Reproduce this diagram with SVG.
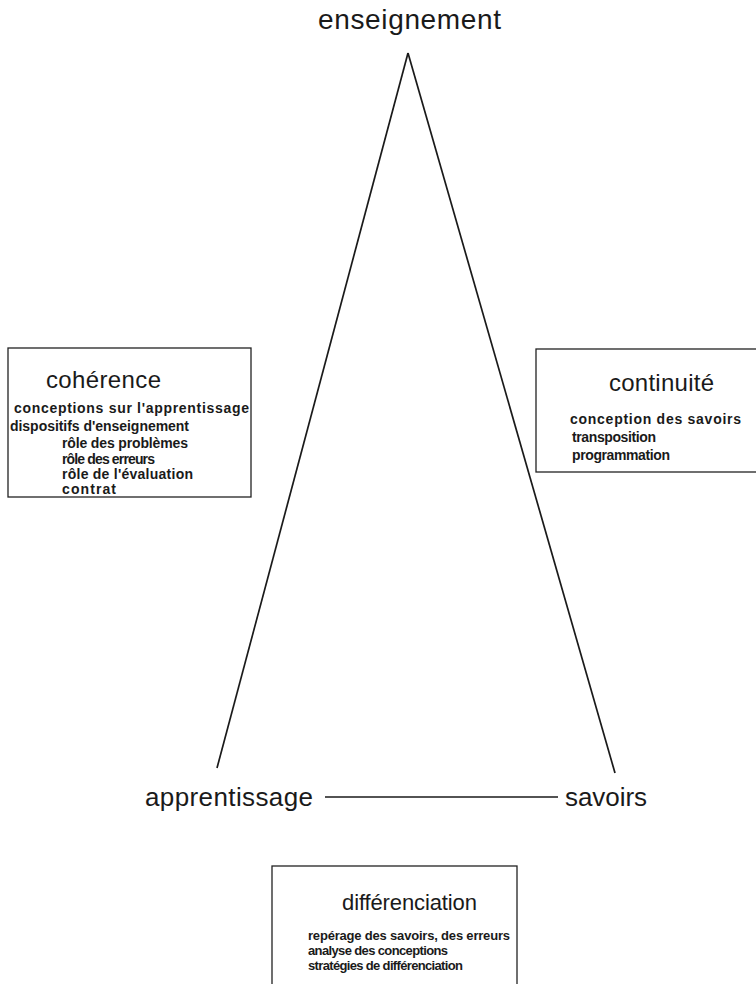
<svg xmlns="http://www.w3.org/2000/svg" width="756" height="984" viewBox="0 0 756 984">
<style>
text{font-family:"Liberation Sans",Arial,sans-serif;fill:#1a1a1a}
.v{font-size:26px}
.t{font-size:24px}
.s{font-size:14px;font-weight:bold}
.s2{font-size:13px;font-weight:bold}
.box{fill:#fff;stroke:#222;stroke-width:1.3}
.ln{stroke:#1a1a1a;stroke-width:1.7;fill:none}
</style>
<rect width="756" height="984" fill="#fff"/>
<g id="connectors">
<line class="ln" x1="408" y1="53" x2="217" y2="768"/>
<line class="ln" x1="408" y1="53" x2="615" y2="773"/>
<line class="ln" x1="325" y1="797" x2="558" y2="797"/>
</g>
<g id="enseignement"><text class="v" x="318" y="29" textLength="183" style="font-size:28px">enseignement</text></g>
<g id="apprentissage"><text class="v" x="145" y="806" textLength="168">apprentissage</text></g>
<g id="savoirs"><text class="v" x="565" y="806" textLength="82">savoirs</text></g>
<g id="coherence">
<rect class="box" x="8" y="348" width="243" height="149"/>
<text class="t" x="46" y="388" textLength="115">cohérence</text>
<text class="s" x="14" y="413" textLength="235">conceptions sur l'apprentissage</text>
<text class="s" x="10" y="431" textLength="179">dispositifs d'enseignement</text>
<text class="s" x="62" y="448" textLength="126">rôle des problèmes</text>
<text class="s" x="62" y="464" textLength="93">rôle des erreurs</text>
<text class="s" x="62" y="479" textLength="131">rôle de l'évaluation</text>
<text class="s" x="62" y="494" textLength="54">contrat</text>
</g>
<g id="continuite">
<rect class="box" x="536" y="349" width="224" height="123"/>
<text class="t" x="609" y="391" textLength="105">continuité</text>
<text class="s" x="570" y="424" textLength="171">conception des savoirs</text>
<text class="s" x="572" y="442" textLength="84">transposition</text>
<text class="s" x="572" y="460" textLength="98">programmation</text>
</g>
<g id="differenciation">
<rect class="box" x="272" y="866" width="245" height="130"/>
<text class="t" x="342" y="910" textLength="135" style="font-size:22px">différenciation</text>
<text class="s2" x="308" y="940" textLength="202">repérage des savoirs, des erreurs</text>
<text class="s2" x="308" y="955" textLength="140">analyse des conceptions</text>
<text class="s2" x="308" y="970" textLength="155">stratégies de différenciation</text>
</g>
</svg>
